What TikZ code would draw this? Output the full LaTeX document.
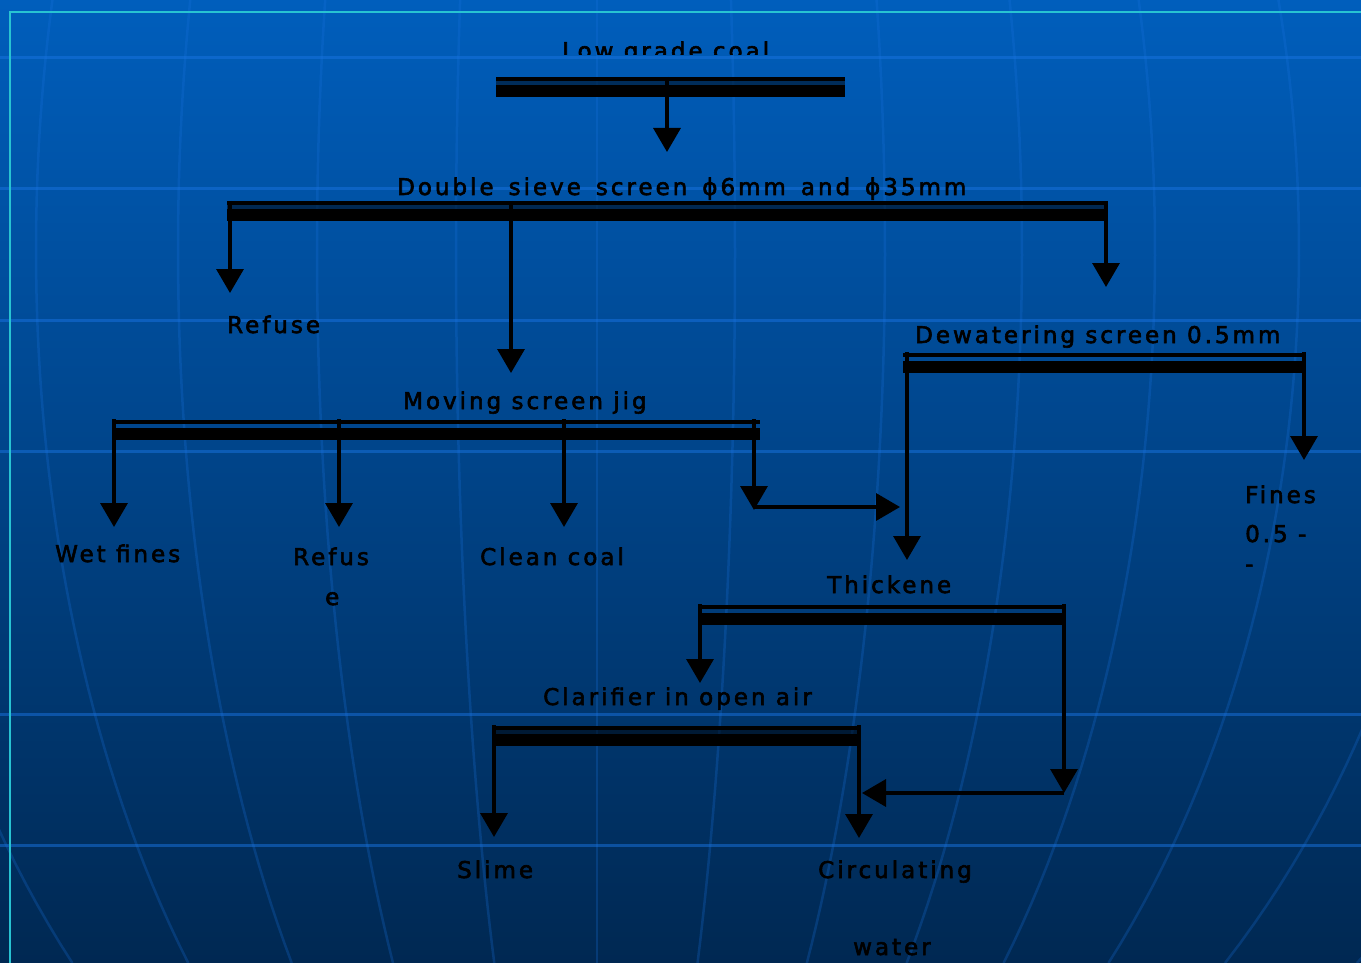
\documentclass[tikz,border=0pt]{standalone}
\usepackage{fontspec}
\setmainfont{DejaVu Sans}[LetterSpace=13, FakeBold=2.5]
\usetikzlibrary{arrows.meta}
\definecolor{bgtop}{RGB}{0,94,188}
\definecolor{bgmid}{RGB}{0,64,130}
\definecolor{bgbot}{RGB}{0,40,82}
\definecolor{gridblue}{RGB}{25,115,225}
\definecolor{framecyan}{RGB}{40,195,210}
\begin{document}
\begin{tikzpicture}[x=1pt,y=-1pt,
  lbl/.style={anchor=base west, inner sep=0pt, font=\fontsize{23}{27}\selectfont, text=black},
  bar/.style={inner sep=0pt, minimum height=20pt, path picture={
      \fill[black] (path picture bounding box.north west) rectangle ([yshift=-4pt]path picture bounding box.north east);
      \fill[black] ([yshift=12pt]path picture bounding box.south west) rectangle (path picture bounding box.south east);}},
  darkbar/.style={inner sep=0pt, minimum height=20pt, path picture={
      \fill[black] (path picture bounding box.north west) rectangle ([yshift=-4pt]path picture bounding box.north east);
      \fill[black, opacity=0.5] ([yshift=-4pt]path picture bounding box.north west) rectangle ([yshift=12pt]path picture bounding box.south east);
      \fill[black] ([yshift=12pt]path picture bounding box.south west) rectangle (path picture bounding box.south east);}},
  conn/.style={line width=3.5pt, black},
  arr/.style={conn, -{Triangle[width=27pt,length=24pt]}},
  hgrid/.style={gridblue, opacity=0.5, line width=3pt},
  vgrid/.style={gridblue, opacity=0.25, line width=2.5pt}]
\useasboundingbox (0,0) rectangle (1361,963);
% background
\shade[top color=bgtop, middle color=bgmid, bottom color=bgbot] (0,0) rectangle (1361,963);
\begin{scope}
\clip (0,0) rectangle (1361,963);
\foreach \yy in {58,189,320,451,714,845} \draw[hgrid] (0,\yy) -- (1361,\yy);
\foreach \A in {-720,-561,-419,-280,-141,0,138,288,425,558,702,862,1043}
  \draw[vgrid] plot[domain=0:963, samples=50, variable=\t] ({597+\A*sqrt(1-((\t-250)/1041)^2)}, \t);
\end{scope}
\draw[framecyan, line width=2pt] (1361,12) -- (10,12) -- (10,963);
% screens (bars)
\node[darkbar, minimum width=349pt] (b1) at (670.5,87) {};
\node[darkbar, minimum width=880pt] (b2) at (667,211) {};
\node[bar, minimum width=647pt] (b3) at (436.5,429.5) {};
\node[bar, minimum width=401pt] (b4) at (1103.5,362.5) {};
\node[bar, minimum width=368pt] (b5) at (882,614.5) {};
\node[darkbar, minimum width=369pt] (b6) at (676.5,735.5) {};
% labels
\begin{scope}
\clip (0,0) rectangle (1361,55);
\node[lbl] (lgc) at (562,59) {Low grade coal};
\end{scope}
\node[lbl] (dss) at (397,195) {\spaceskip=15pt\relax Double sieve screen ϕ6mm and ϕ35mm};
\node[lbl] (ref1) at (227,333) {Refuse};
\node[lbl] (msj) at (403,409) {Moving screen jig};
\node[lbl] (dws) at (915,343) {Dewatering screen 0.5mm};
\node[lbl] (wf) at (55,562) {Wet fines};
\node[lbl] (ref2a) at (293,565) {Refus};
\node[lbl] (ref2b) at (325,605) {e};
\node[lbl] (cc) at (480,565) {Clean coal};
\node[lbl] (fin1) at (1245,503) {Fines};
\node[lbl] (fin2) at (1245,542) {0.5 -};
\node[lbl] (fin3) at (1245,572) {-};
\node[lbl] (thk) at (827,593) {Thickene};
\node[lbl] (clr) at (543,705) {Clarifier in open air};
\node[lbl] (slm) at (457,878) {Slime};
\node[lbl] (circ) at (818,878) {Circulating};
\node[lbl] (wat) at (853,955) {water};
% arrow tips
\coordinate (t1) at (667,152);
\coordinate (t2a) at (230,293);
\coordinate (t2b) at (511,373);
\coordinate (t2c) at (1106,287);
\coordinate (t3a) at (114,527);
\coordinate (t3b) at (339,527);
\coordinate (t3c) at (564,527);
\coordinate (t3d) at (754,510);
\coordinate (h1) at (900,507);
\coordinate (t4a) at (907,560);
\coordinate (t4b) at (1304,460);
\coordinate (t5a) at (700,683);
\coordinate (t5b) at (1064,793);
\coordinate (h2) at (862,793);
\coordinate (t6a) at (494,837);
\coordinate (t6b) at (859,838);
% connectors
\draw[arr] (b1.north -| t1) -- (t1);
\draw[arr] (b2.north -| t2a) -- (t2a);
\draw[arr] (b2.north -| t2b) -- (t2b);
\draw[arr] (b2.north -| t2c) -- (t2c);
\draw[arr] (b3.north -| t3a) -- (t3a);
\draw[arr] (b3.north -| t3b) -- (t3b);
\draw[arr] (b3.north -| t3c) -- (t3c);
\draw[arr] (b3.north -| t3d) -- (t3d);
\draw[arr] (t3d |- h1) -- (h1);
\draw[arr] (b4.north -| t4a) -- (t4a);
\draw[arr] (b4.north -| t4b) -- (t4b);
\draw[arr] (b5.north -| t5a) -- (t5a);
\draw[arr] (b5.north -| t5b) -- (t5b);
\draw[arr] (t5b) -- (h2);
\draw[arr] (b6.north -| t6a) -- (t6a);
\draw[arr] (b6.north -| t6b) -- (t6b);
\end{tikzpicture}
\end{document}
